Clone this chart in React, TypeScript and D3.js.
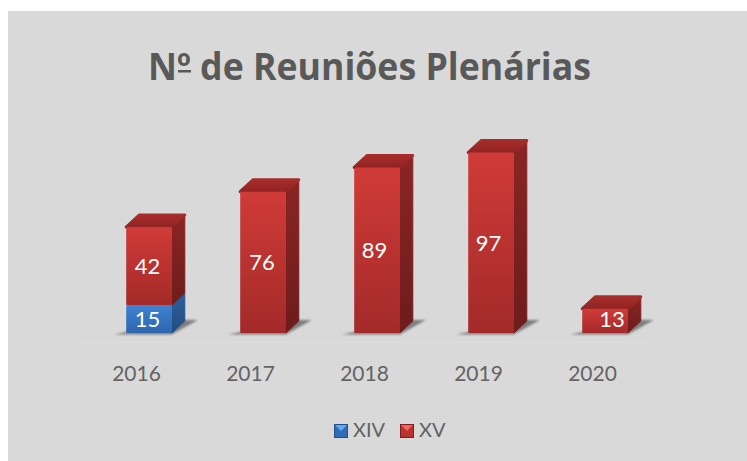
import React from "react";
import * as d3 from "d3";

const years = ["2016", "2017", "2018", "2019", "2020"];
const xiv = [15, 0, 0, 0, 0];
const xv = [42, 76, 89, 97, 13];
const legendItems = ["XIV", "XV"];
const title = "Nº de Reuniões Plenárias";

const FONT = "Lato, 'Open Sans', sans-serif";
const labelDx = [-1.5, -1, -2.5, -2.5, 7];
const x = d3.scaleBand().domain(years).range([92, 662]).paddingInner(0.6).paddingOuter(0.3);
const y = d3.scaleLinear().domain([0, 100]).range([333, 147]);
const DX = 13, DY = 12;

function Segment({ x0, w, v0, v1, c, top }: any) {
  const yb = y(v0), yt = y(v1);
  const side = `M${x0 + w},${yb}L${x0 + w + DX},${yb - DY}L${x0 + w + DX},${yt - DY}L${x0 + w},${yt}Z`;
  const cap = `M${x0},${yt}L${x0 + DX},${yt - DY}L${x0 + w + DX},${yt - DY}L${x0 + w},${yt}Z`;
  return (
    <g>
      <path d={side} fill={`url(#${c}Side)`} stroke={`url(#${c}Side)`} strokeWidth={1} strokeLinejoin="round" />
      {top && <path d={cap} fill={`url(#${c}Top)`} stroke={`url(#${c}Top)`} strokeWidth={3} strokeLinejoin="round" />}
      <rect x={x0} y={yt} width={w} height={yb - yt} rx={1} fill={`url(#${c}Front)`} />
    </g>
  );
}

function LegendKey({ kx, c }: any) {
  const s = 14, ky = 424;
  const p = (pts: number[][]) => "M" + pts.map((q) => q.join(",")).join("L") + "Z";
  const m = [kx + s / 2, ky + s / 2];
  const cols = c === "blue"
    ? { top: "#64aaf2", mid: "#2f6cb4", side: "#234f87" }
    : { top: "#f0655c", mid: "#b83230", side: "#7c1f1e" };
  return (
    <g>
      <rect x={kx} y={ky} width={s} height={s} fill={cols.mid} />
      <path d={p([[kx + 1, ky + 1], [kx + s - 1, ky + 1], m])} fill={cols.top} />
      <rect x={kx + 0.5} y={ky + 0.5} width={s - 1} height={s - 1} fill="none" stroke={cols.side} strokeWidth={1} />
    </g>
  );
}

export default function App() {
  const w = x.bandwidth();
  return (
    <svg width={747} height={461} style={{ position: "absolute", left: 0, top: 0 }}>
      <defs>
        <linearGradient id="redFront" x1="0" y1="0" x2="0" y2="1">
          <stop offset="0" stopColor="#d03b38" />
          <stop offset="1" stopColor="#a32a29" />
        </linearGradient>
        <linearGradient id="blueFront" x1="0" y1="0" x2="0" y2="1">
          <stop offset="0" stopColor="#3f82d2" />
          <stop offset="1" stopColor="#2d66ad" />
        </linearGradient>
        <linearGradient id="redSide" x1="0" y1="0" x2="0" y2="1">
          <stop offset="0" stopColor="#8a2524" />
          <stop offset="1" stopColor="#6e1c1c" />
        </linearGradient>
        <linearGradient id="blueSide" x1="0" y1="0" x2="0" y2="1">
          <stop offset="0" stopColor="#2c5f9c" />
          <stop offset="1" stopColor="#234d80" />
        </linearGradient>
        <linearGradient id="redTop" x1="0" y1="0" x2="0" y2="1">
          <stop offset="0" stopColor="#a82c2b" />
          <stop offset="1" stopColor="#8f2423" />
        </linearGradient>
        <filter id="soft" x="-30%" y="-50%" width="160%" height="200%">
          <feGaussianBlur stdDeviation="1.2" />
        </filter>
      </defs>

      <rect x={8} y={11} width={739} height={450} fill="#d9d9d9" />

      <text x={369.5} y={80} textAnchor="middle" fontFamily="'Open Sans', sans-serif" fontWeight={700} fontSize={37} fill="#595959" textLength={443} lengthAdjust="spacingAndGlyphs">
        {title}
      </text>
      <rect x={178} y={70} width={13} height={2.5} fill="#595959" />

      <line x1={78} x2={648} y1={342.5} y2={342.5} stroke="#dedede" strokeWidth={1} />

      {years.map((yr) => {
        const x0 = x(yr)!;
        return (
          <path
            key={yr}
            d={`M${x0 - 12},${y(0) + 1.5}L${x0 + w},${y(0) + 1.5}L${x0 + w + 26},${y(0) - 13}L${x0 + w + 12},${y(0) - 13}Z`}
            fill="#7d7d7d"
            filter="url(#soft)"
          />
        );
      })}

      {years.map((yr, i) => {
        const x0 = x(yr)!;
        return (
          <g key={yr}>
            {xiv[i] > 0 && <Segment x0={x0} w={w} v0={0} v1={xiv[i]} c="blue" top={false} />}
            <Segment x0={x0} w={w} v0={xiv[i]} v1={xiv[i] + xv[i]} c="red" top={true} />
          </g>
        );
      })}

      {years.map((yr, i) => {
        const cx = x(yr)! + w / 2 + labelDx[i];
        return (
          <g key={yr} fontFamily={FONT} fontSize={22} fill="#fff" textAnchor="middle">
            {xiv[i] > 0 && <text x={cx} y={(y(0) + y(xiv[i])) / 2 + 8}>{xiv[i]}</text>}
            <text x={cx} y={i === 4 ? 327 : (y(xiv[i]) + y(xiv[i] + xv[i])) / 2 + 8}>{xv[i]}</text>
          </g>
        );
      })}

      {years.map((yr) => (
        <text key={yr} x={x(yr)! + w / 2 - 12.5} y={381} textAnchor="middle" fontFamily={FONT} fontSize={21} fill="#636363">
          {yr}
        </text>
      ))}

      <LegendKey kx={334} c="blue" />
      <text x={353} y={437} fontFamily={FONT} fontSize={20} fill="#636363">{legendItems[0]}</text>
      <LegendKey kx={400} c="red" />
      <text x={419} y={437} fontFamily={FONT} fontSize={20} fill="#636363">{legendItems[1]}</text>
    </svg>
  );
}
